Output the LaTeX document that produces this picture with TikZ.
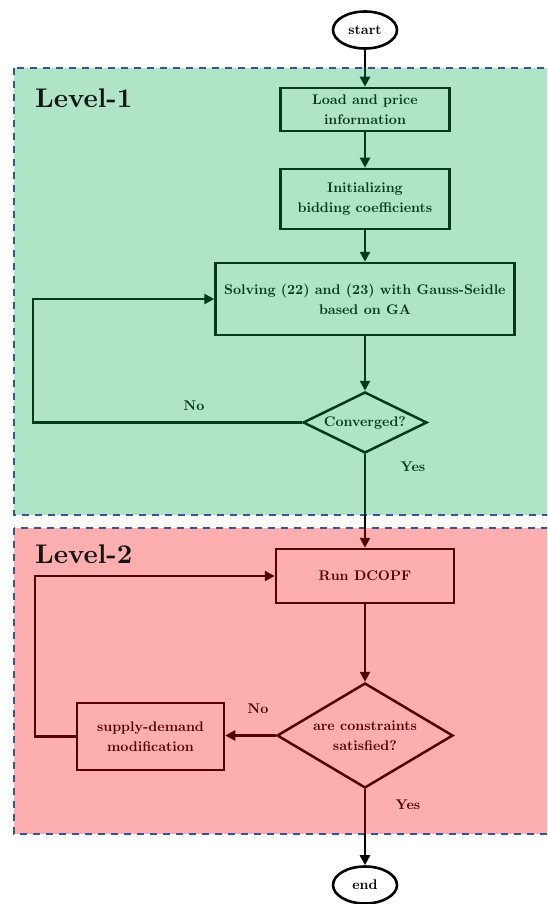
\documentclass[tikz,border=0pt]{standalone}
\usetikzlibrary{shapes.geometric,arrows.meta}
\definecolor{gfill}{RGB}{175,229,198}
\definecolor{rfill}{RGB}{253,175,175}
\definecolor{gline}{RGB}{0,60,28}
\definecolor{rline}{RGB}{85,0,0}
\definecolor{dashblue}{RGB}{55,85,150}
\font\nodefont=cmbx10 at 14pt
\font\levelfont=cmbx10 at 27pt
\tikzset{
  basefont/.style={font=\fontsize{14}{20}\selectfont\nodefont},
  arr/.style={-{Triangle[length=10pt,width=10pt]}},
  gl/.style={draw=gline, line width=2.5pt},
  rl/.style={draw=rline, line width=2.5pt},
  blk/.style={draw=black, line width=2.5pt},
  term/.style={ellipse, draw=black, line width=2.6pt, minimum width=64pt, minimum height=37pt, inner sep=0pt, basefont, text=black},
  box1/.style={rectangle, draw=gline, line width=2.5pt, align=center, inner sep=0pt, basefont, text=gline},
  box2/.style={rectangle, draw=rline, line width=2.5pt, align=center, inner sep=0pt, basefont, text=rline},
  dia1/.style={diamond, draw=gline, line width=2.5pt, align=center, inner sep=0pt, basefont, text=gline},
  dia2/.style={diamond, draw=rline, line width=2.5pt, align=center, inner sep=0pt, basefont, text=rline},
  lab1/.style={basefont, text=gline, inner sep=0pt},
  lab2/.style={basefont, text=rline, inner sep=0pt},
  levelbox/.style={draw=dashblue, line width=1.8pt, dash pattern=on 7pt off 6pt},
  leveltext/.style={font=\levelfont, text=black!92, inner sep=0pt, anchor=base west}
}
\begin{document}
\begin{tikzpicture}[x=1pt,y=-1pt]
\useasboundingbox (0,0) rectangle (547,904);
\clip (0,0) rectangle (547,904);
% backgrounds
\fill[gfill] (14,68) rectangle (560,515);
\fill[rfill] (14,528) rectangle (560,834);
\draw[levelbox] (14,68) rectangle (560,515);
\draw[levelbox] (14,528) rectangle (560,834);
\node[leveltext] (lv1) at (35,108) {Level-1};
\node[leveltext] (lv2) at (35,563) {Level-2};
% helper coordinates
\coordinate (top1) at (0,68);
\coordinate (bot1) at (0,515);
\coordinate (top2) at (0,528);
\coordinate (bot2) at (0,834);
\coordinate (fbx1) at (33,0);
\coordinate (fbx2) at (35,0);
% nodes
\node[term] (start) at (365,30) {start};
\node[box1, minimum width=169pt, minimum height=43pt] (load) at (365,109.5) {Load and price\\information};
\node[box1, minimum width=169pt, minimum height=60pt] (init) at (365,199) {Initializing\\bidding coefficients};
\node[box1, minimum width=299pt, minimum height=72pt] (solve) at (365,299) {Solving (22) and (23) with Gauss-Seidle\\based on GA};
\node[dia1, minimum width=124pt, minimum height=61pt, shape aspect=2] (conv) at (365,422.5) {Converged?};
\node[box2, minimum width=178pt, minimum height=54pt] (dcopf) at (365,576) {Run DCOPF};
\node[dia2, minimum width=176pt, minimum height=105pt, shape aspect=1.66] (cons) at (365,735.5) {are constraints\\satisfied?};
\node[box2, minimum width=147pt, minimum height=67pt] (supply) at (150.5,736.5) {supply-demand\\modification};
\node[term] (end) at (365,885) {end};
% connectors
\draw[blk] (start) -- (start |- top1);
\draw[gl,arr] (start |- top1) -- (load);
\draw[gl,arr] (load) -- (init);
\draw[gl,arr] (init) -- (solve);
\draw[gl,arr] (solve) -- (conv);
\draw[gl,arr] (conv.west) -- (conv.west -| fbx1) |- (solve.west);
\draw[gl] (conv.south) -- (conv |- bot1);
\draw[blk] (conv |- bot1) -- (conv |- top2);
\draw[rl,arr] (conv |- top2) -- (dcopf);
\draw[rl,arr] (dcopf) -- (cons);
\draw[rl,arr] (cons.west) -- (cons.west -| supply.east);
\draw[rl,arr] (supply.west) -- (supply.west -| fbx2) |- (dcopf.west);
\draw[rl] (cons.south) -- (cons |- bot2);
\draw[blk,arr] (cons |- bot2) -- (end);
% labels
\node[lab1] (no1) at (194,406) {No};
\node[lab1] (yes1) at (413,467) {Yes};
\node[lab2] (no2) at (258,709) {No};
\node[lab2] (yes2) at (408,805) {Yes};
\end{tikzpicture}
\end{document}
